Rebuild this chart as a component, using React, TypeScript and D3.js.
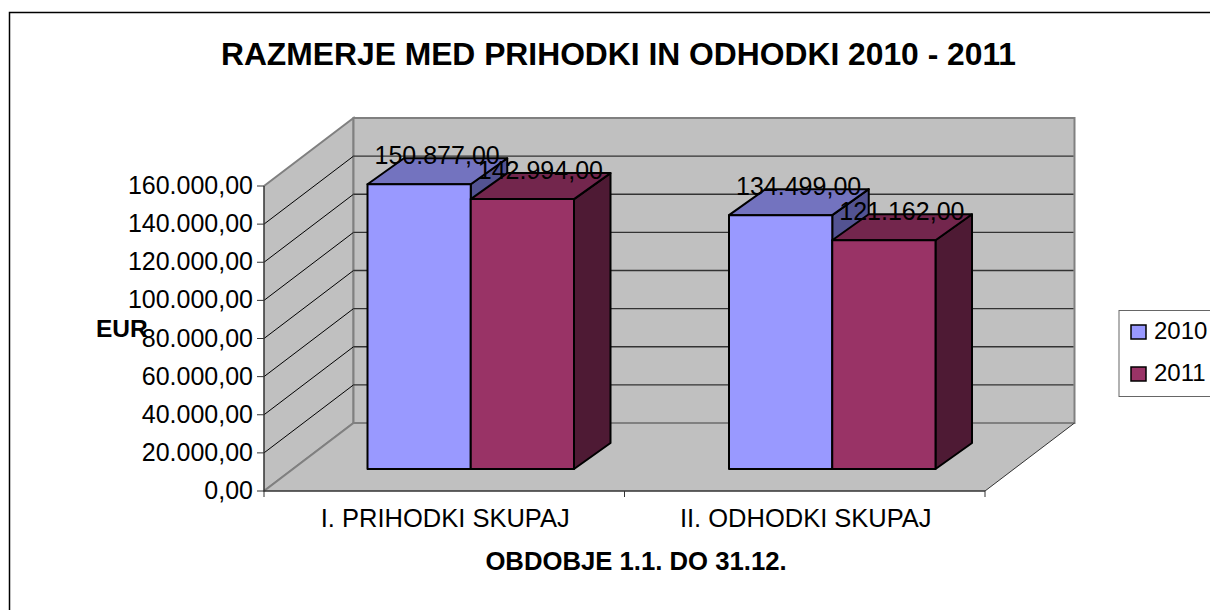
import React from 'react';
import * as d3 from 'd3';

const categories = ['I. PRIHODKI SKUPAJ', 'II. ODHODKI SKUPAJ'];
const seriesNames = ['2010', '2011'];
const values2010 = [150877, 134499];
const values2011 = [142994, 121162];
const tickValues = [0, 20000, 40000, 60000, 80000, 100000, 120000, 140000, 160000];
const valueLabels2010 = ['150.877,00', '134.499,00'];
const valueLabels2011 = ['142.994,00', '121.162,00'];
const tickLabels = ['0,00', '20.000,00', '40.000,00', '60.000,00', '80.000,00', '100.000,00', '120.000,00', '140.000,00', '160.000,00'];

const FONT = '"Liberation Sans", Arial, sans-serif';

export default function App() {
    // front edge of the floor and how far the back wall is pushed away
    const left = 264, right = 985, bottom = 491, top = 186;
    const depthX = 89.5, depthY = 68;
    const barDepthX = 36.5, barDepthY = 26;

    const scaleY = d3.scaleLinear().domain([0, 160000]).range([bottom, top]);
    const barY = d3.scaleLinear().domain([0, 160000]).range([469, 167]);
    const scaleX = d3.scaleBand<string>().domain(categories).range([left, right]);
    const groupX = d3.scaleBand<string>().domain(categories).range([290, 1013]);
    const barX = d3.scaleBand<string>().domain(seriesNames).range([77.5, 284]);

    const poly = d3.line();

    const bars = [
        { name: '2010', values: values2010, labels: valueLabels2010, front: '#9999ff', top: '#7373bf', side: '#535392' },
        { name: '2011', values: values2011, labels: valueLabels2011, front: '#993366', top: '#73264d', side: '#4e1a34' }
    ];

    const wallPath = poly([[left, bottom], [left + depthX, bottom - depthY], [left + depthX, top - depthY], [left, top]])!;
    const floorPath = poly([[left, bottom], [left + depthX, bottom - depthY], [right + depthX, bottom - depthY], [right, bottom]])!;

    return (
        <svg width={1210} height={610} style={{ position: 'absolute', left: 0, top: 0 }} fontFamily={FONT}>
            <rect x={0} y={0} width={1210} height={610} fill="white" />
            <rect x={9.5} y={12.5} width={1230} height={640} fill="white" stroke="#000" strokeWidth={1.5} />

            <text x={618.5} y={65} textAnchor="middle" fontSize={31.8} fontWeight="bold">RAZMERJE MED PRIHODKI IN ODHODKI 2010 - 2011</text>

            {/* walls */}
            <path d={wallPath} fill="#c0c0c0" stroke="#808080" strokeWidth={2} />
            <path d={floorPath} fill="#c0c0c0" stroke="none" />
            <rect x={left + depthX} y={top - depthY} width={right - left} height={bottom - top} fill="#c0c0c0" stroke="#808080" strokeWidth={2} />
            <path d={poly([[left, bottom], [left + depthX, bottom - depthY]])!} fill="none" stroke="#808080" strokeWidth={2} />
            <path d={poly([[right, bottom], [right + depthX, bottom - depthY]])!} fill="none" stroke="#333" strokeWidth={1} />

            {/* gridlines, the top one is just the wall edge */}
            {tickValues.slice(1, -1).map(t => (
                <g key={t} fill="none">
                    <path d={poly([[left, scaleY(t)], [left + depthX, scaleY(t) - depthY]])!} stroke="#000" strokeWidth={1} />
                    <path d={poly([[left + depthX, scaleY(t) - depthY], [right + depthX - 1, scaleY(t) - depthY]])!} stroke="#333" strokeWidth={1.4} />
                </g>
            ))}

            {/* axes */}
            <path d={poly([[left, top], [left, bottom], [right, bottom]])!} fill="none" stroke="#333" strokeWidth={1.5} />
            {tickValues.map((t, i) => (
                <g key={t}>
                    <line x1={left - 7} x2={left} y1={scaleY(t)} y2={scaleY(t)} stroke="#333" strokeWidth={1} />
                    <text x={253} y={scaleY(t) + 8} textAnchor="end" fontSize={25}>{tickLabels[i]}</text>
                </g>
            ))}
            {[...categories.map(c => scaleX(c)!), right].map(x => (
                <line key={x} x1={x} x2={x} y1={bottom} y2={bottom + 6} stroke="#333" strokeWidth={1} />
            ))}
            {categories.map(c => (
                <text key={c} x={scaleX(c)! + scaleX.bandwidth() / 2 + 1} y={527} textAnchor="middle" fontSize={25.5}>{c}</text>
            ))}

            <text x={636} y={569.5} textAnchor="middle" fontSize={25.7} fontWeight="bold">OBDOBJE 1.1. DO 31.12.</text>
            <text x={96} y={337} fontSize={24.5} fontWeight="bold">EUR</text>

            {/* bars, back to front per category */}
            {categories.map((c, ci) => bars.map(b => {
                const x0 = groupX(c)! + barX(b.name)!;
                const x1 = x0 + barX.bandwidth();
                const y0 = barY(0);
                const y1 = barY(b.values[ci]);
                return (
                    <g key={c + b.name} stroke="#000" strokeWidth={2} strokeLinejoin="round">
                        <path d={poly([[x1, y1], [x1 + barDepthX, y1 - barDepthY], [x1 + barDepthX, y0 - barDepthY], [x1, y0]])! + 'Z'} fill={b.side} />
                        <path d={poly([[x0, y1], [x0 + barDepthX, y1 - barDepthY], [x1 + barDepthX, y1 - barDepthY], [x1, y1]])! + 'Z'} fill={b.top} />
                        <rect x={x0} y={y1} width={x1 - x0} height={y0 - y1} fill={b.front} />
                    </g>
                );
            }))}

            {/* value labels */}
            {categories.map((c, ci) => bars.map(b => (
                <text key={c + b.name} x={groupX(c)! + barX(b.name)! + barX.bandwidth() / 2 + 18} y={barY(b.values[ci]) - 20}
                    textAnchor="middle" fontSize={25}>{b.labels[ci]}</text>
            )))}

            {/* legend */}
            <rect x={1119} y={310.5} width={100} height={86} fill="white" stroke="#666" strokeWidth={1} />
            {bars.map((b, i) => (
                <g key={b.name}>
                    <rect x={1131} y={325 + i * 42} width={15} height={14} fill={b.front} stroke="#000" strokeWidth={1.5} />
                    <text x={1154} y={338.5 + i * 42} fontSize={24}>{b.name}</text>
                </g>
            ))}
        </svg>
    );
}
